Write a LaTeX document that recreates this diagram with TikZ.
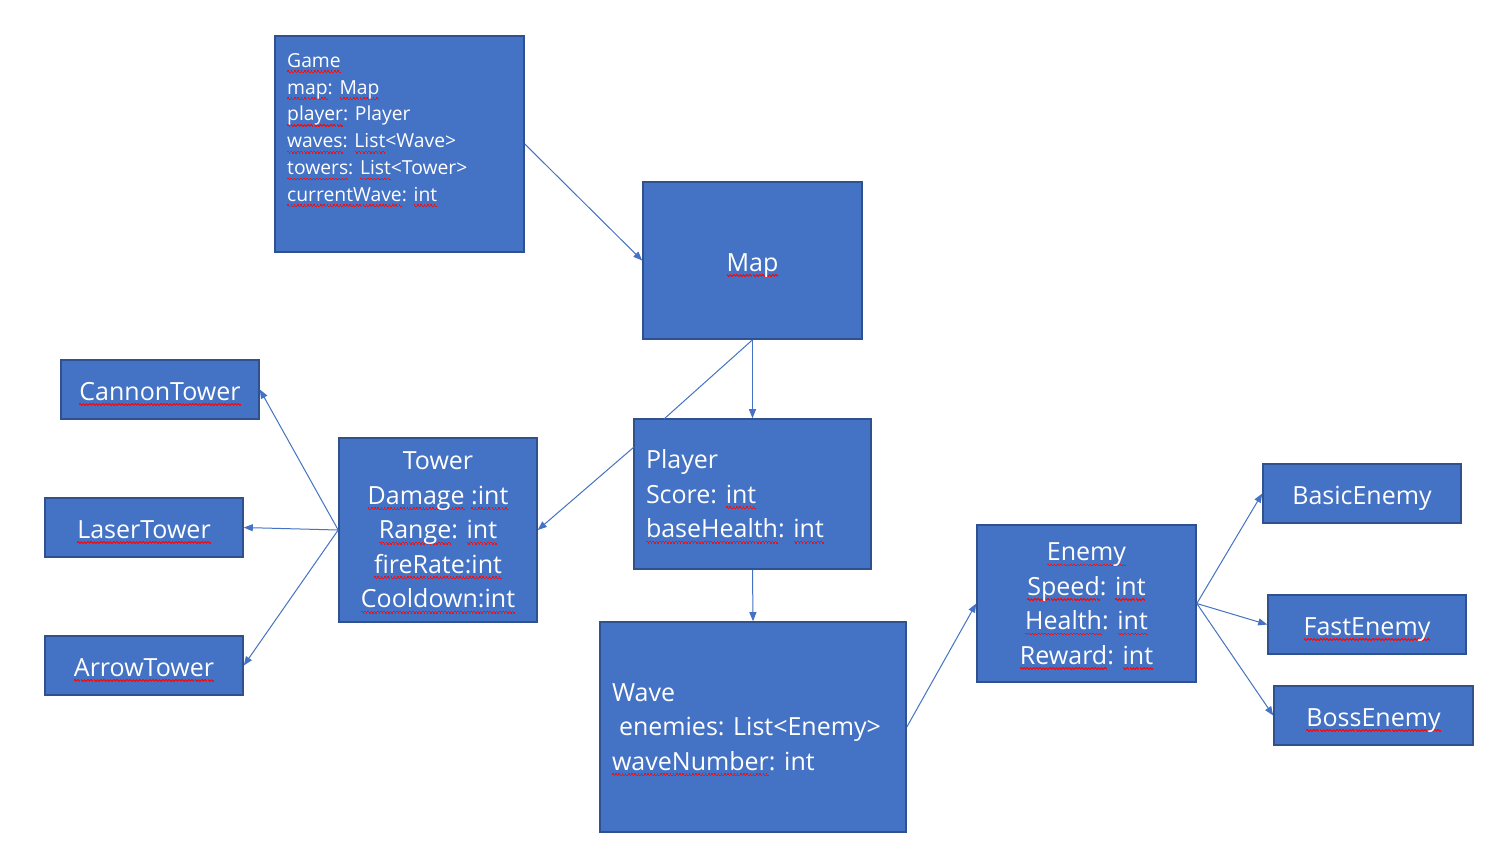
\documentclass[tikz,border=0pt]{standalone}
\usepackage{fontspec}
\setmainfont{Open Sans}
\usetikzlibrary{arrows.meta}
\definecolor{boxfill}{HTML}{4472C4}
\definecolor{boxline}{HTML}{2F528F}
\definecolor{connc}{HTML}{4472C4}
\definecolor{wavered}{HTML}{E8141B}
\newcommand\waveunit{\hbox{\rule[-4.6pt]{1.6pt}{1.5pt}\rule[-5.9pt]{1.6pt}{1.5pt}}}
\newcommand\sq[1]{\leavevmode\setbox0=\hbox{#1}\rlap{\raisebox{0pt}[0pt][0pt]{\color{wavered}\hbox to \wd0{\xleaders\waveunit\hfill}}}#1}
\tikzset{
  box/.style={draw=boxline, line width=1.6pt, fill=boxfill, inner sep=0pt, rectangle},
  big/.style={text=white, font=\fontsize{25}{34.5}\selectfont},
  one/.style={big, text height=27pt, text depth=6pt},
  small/.style={text=white, inner sep=0pt, font=\fontsize{19.3}{26.8}\selectfont, align=left},
  conn/.style={draw=connc, line width=1pt, -{Triangle[length=9pt,width=7pt]}},
  plain/.style={draw=connc, line width=1pt},
}
\begin{document}
\begin{tikzpicture}[x=1pt,y=-1pt]
\fill[white] (0,0) rectangle (1493,849);
\useasboundingbox (0,0) rectangle (1493,849);

\node[box, minimum width=249pt, minimum height=216pt] (game) at (399.5,144) {};
\node[small, anchor=west] (gametext) at (287,127.5) {\sq{Game}\\ \sq{map}: \sq{Map}\\ \sq{player}: Player\\ \sq{waves}: \sq{List}<Wave>\\ \sq{towers}: \sq{List}<Tower>\\ \sq{currentWave}: \sq{int}};

\node[box, one, minimum width=219pt, minimum height=157pt] (map) at (752.5,260.5) {\sq{Map}};

\node[box, one, minimum width=198pt, minimum height=59pt] (cannon) at (160,389.5) {\sq{CannonTower}};
\node[box, one, minimum width=198pt, minimum height=59pt] (laser) at (144,527.5) {\sq{LaserTower}};
\node[box, one, minimum width=198pt, minimum height=59pt] (arrowt) at (144,665.5) {\sq{ArrowTower}};

\node[box, big, align=center, minimum width=198pt, minimum height=184pt] (tower) at (438,530)
  {Tower\\ \sq{Damage} \sq{:int}\\ \sq{Range}: \sq{int}\\ \sq{fireRate:int}\\ \sq{Cooldown:int}};

\node[box, big, align=flush left, text width=213pt, minimum width=237pt, minimum height=150pt] (player) at (752.5,494)
  {Player\\ Score: \sq{int}\\ \sq{baseHealth}: \sq{int}};

\node[box, big, align=flush left, text width=282pt, minimum width=306pt, minimum height=210pt] (wave) at (753,727)
  {Wave\\ \hspace*{7pt}enemies: List<Enemy>\\ \sq{waveNumber}: int};

\node[box, big, align=center, minimum width=219pt, minimum height=157pt] (enemy) at (1086.5,603.5)
  {\sq{Enemy}\\ \sq{Speed}: \sq{int}\\ \sq{Health}: \sq{int}\\ \sq{Reward}: \sq{int}};

\node[box, one, minimum width=198pt, minimum height=59pt] (basic) at (1362,493.5) {BasicEnemy};
\node[box, one, minimum width=198pt, minimum height=59pt] (fast) at (1367,624.5) {\sq{FastEnemy}};
\node[box, one, minimum width=199pt, minimum height=59pt] (boss) at (1373.5,715.5) {\sq{BossEnemy}};

\coordinate (pltop) at (664,419);
\coordinate (plleft) at (634,447);

\draw[conn] (game.east) -- (map.west);
\draw[conn] (map.south) -- (player.north);
\draw[plain] (map.south) -- (pltop);
\draw[conn] (plleft) -- (tower.east);
\draw[conn] (tower.west) -- (cannon.east);
\draw[conn] (tower.west) -- (laser.east);
\draw[conn] (tower.west) -- (arrowt.east);
\draw[conn] (player.south) -- (wave.north);
\draw[conn] (wave.east) -- (enemy.west);
\draw[conn] (enemy.east) -- (basic.west);
\draw[conn] (enemy.east) -- (fast.west);
\draw[conn] (enemy.east) -- (boss.west);
\end{tikzpicture}
\end{document}
